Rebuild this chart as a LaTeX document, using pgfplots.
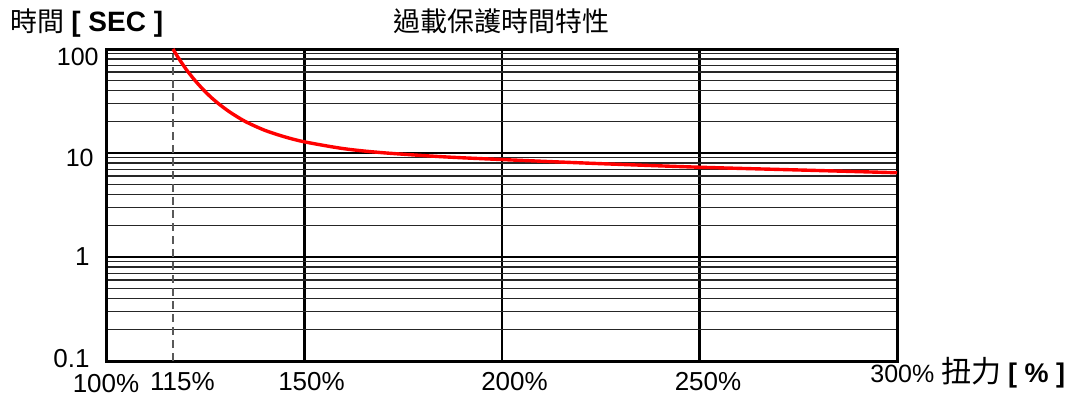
\documentclass[border=0pt]{standalone}
\usepackage{pgfplots}
\pgfplotsset{compat=1.18}
\usepackage{fontspec}
\setmainfont{Liberation Sans}
\newfontfamily\cjk{Noto Sans CJK TC}
\begin{document}
\begin{tikzpicture}
\path[use as bounding box] (0,0) rectangle (536pt,198pt);
\begin{axis}[
  at={(53.5pt,17.5pt)}, anchor=south west,
  scale only axis, width=395pt, height=156pt,
  xmin=100, xmax=300, ymode=log, ymin=0.1, ymax=100,
  xtick={150,200,250}, xticklabels={},
  ytick={0.1,1,10,100}, yticklabels={},
  minor ytick={0.2,0.3,0.4,0.5,0.6,0.7,0.8,0.9,2,3,4,5,6,7,8,9,20,30,40,50,60,70,80,90},
  major tick length=0pt, minor tick length=0pt,
  xmajorgrids, ymajorgrids, yminorgrids,
  major grid style={black, line width=1.4pt},
  minor grid style={black!85, line width=0.6pt},
  axis line style={black, line width=1.5pt},
  clip=false,
]
\addplot[gray!70!black, line width=0.6pt, dash pattern=on 4pt off 2.5pt] coordinates {(116.7,0.1) (116.7,100)};
\addplot[red, line width=1.7pt, smooth, tension=0.5] coordinates {
(116.7,100) (118,83) (120,64.1) (122,51.3) (124,42.1) (126,35.3) (128,30.3) (131,24.9)
(135,20.1) (140,16.5) (145,14.3) (150,12.8) (160,11.0) (170,10.05) (185,9.2)
(200,8.65) (225,7.9) (250,7.3) (275,6.87) (300,6.46)};
\end{axis}
\begin{scope}[every node/.style={inner sep=0pt}, font=\fontsize{12.5}{14}\selectfont]
\node[anchor=east] at (49.5pt,169.5pt) {100};
\node[anchor=east] at (47pt,119.25pt) {10};
\node[anchor=east, font=\fontsize{13}{15}\selectfont] at (45pt,69.5pt) {1};
\node[anchor=east, font=\fontsize{13}{15}\selectfont] at (45pt,18.5pt) {0.1};
\node[font=\fontsize{13}{15}\selectfont] at (53pt,6.25pt) {100\%};
\node[font=\fontsize{13}{15}\selectfont] at (91.25pt,7pt) {115\%};
\node[font=\fontsize{13}{15}\selectfont] at (155.75pt,7pt) {150\%};
\node[font=\fontsize{13}{15}\selectfont] at (257.25pt,7pt) {200\%};
\node[font=\fontsize{13}{15}\selectfont] at (354pt,7pt) {250\%};
\node[anchor=west, font=\fontsize{12.5}{14}\selectfont] at (435pt,11.75pt) {300\% {\cjk\fontsize{15}{17}\selectfont 扭力} \textbf{\fontsize{13.5}{15}\selectfont [ \% ]}};
\node[font=\cjk\fontsize{13.5}{16}\selectfont] at (250.5pt,187.5pt) {過載保護時間特性};
\node[anchor=west] at (5pt,186.25pt) {{\cjk\fontsize{13.5}{16}\selectfont 時間} \textbf{\fontsize{14}{16}\selectfont [ SEC ]}};
\end{scope}
\end{tikzpicture}
\end{document}
